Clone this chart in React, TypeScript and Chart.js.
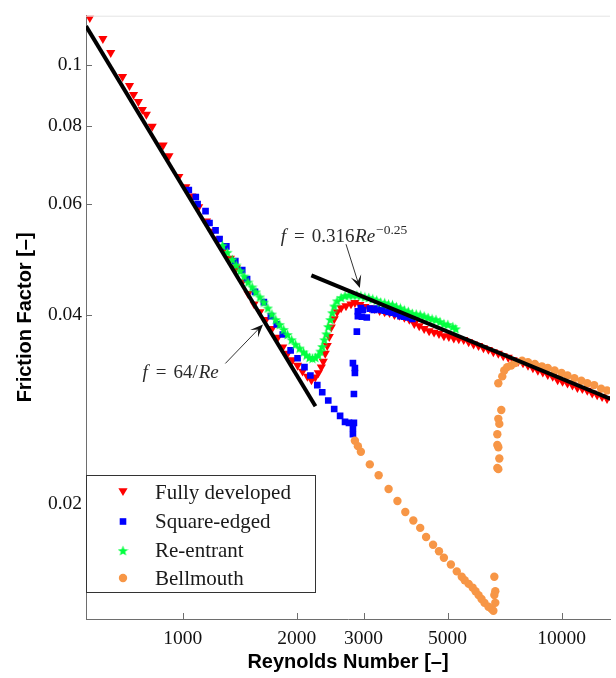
import React, { useEffect, useRef } from 'react';
import { Chart, registerables } from 'chart.js';

Chart.register(...registerables);

// ---- axes ----
const xTickValues = [1000, 2000, 3000, 5000, 10000];
const yTickValues = [0.02, 0.04, 0.06, 0.08, 0.1];
const xRange = [555, 13428];
const yRange = [0.0131, 0.1198];

// ---- series (Reynolds number, friction factor) ----
const seriesNames = ['Fully developed', 'Square-edged', 'Re-entrant', 'Bellmouth'];

const fullyRe = [568, 615, 645, 693, 723, 741, 763, 782, 801, 830, 887, 919, 976, 1018, 1056, 1101, 1155, 1198, 1242, 1288, 1335, 1384, 1435, 1487, 1542, 1598, 1657, 1719, 1781, 1836, 1891, 1950, 2009, 2071, 2133, 2186, 2238, 2279, 2321, 2349, 2377, 2406, 2436, 2466, 2510, 2555, 2618, 2697, 2780, 2847, 2935, 3024, 3117, 3211, 3309, 3411, 3515, 3621, 3732, 3846, 3964, 4085, 4210, 4338, 4471, 4607, 4747, 4891, 5041, 5195, 5354, 5517, 5686, 5859, 6038, 6222, 6412, 6607, 6809, 7016, 7231, 7451, 7679, 7913, 8156, 8404, 8661, 8925, 9198, 9477, 9767, 10063, 10371, 10687, 11014, 11349, 11696, 12052, 12421, 12799, 13189];
const fullyF = [0.1189, 0.1101, 0.1046, 0.0958, 0.0927, 0.0897, 0.0874, 0.0849, 0.0834, 0.0798, 0.0745, 0.0716, 0.0664, 0.0639, 0.0618, 0.0594, 0.0564, 0.0543, 0.0528, 0.0511, 0.0492, 0.0475, 0.0451, 0.0432, 0.0416, 0.0404, 0.0393, 0.0380, 0.0368, 0.0355, 0.0347, 0.0339, 0.0332, 0.0325, 0.0319, 0.0315, 0.0318, 0.0323, 0.0330, 0.0337, 0.0347, 0.0357, 0.0369, 0.0382, 0.0394, 0.0404, 0.0410, 0.0413, 0.0416, 0.0418, 0.0415, 0.0412, 0.0410, 0.0409, 0.0406, 0.0404, 0.0403, 0.0400, 0.0399, 0.0396, 0.0393, 0.0387, 0.0384, 0.0380, 0.0377, 0.0375, 0.0373, 0.0370, 0.0369, 0.0367, 0.0366, 0.0365, 0.0362, 0.0359, 0.0357, 0.0354, 0.0352, 0.0349, 0.0347, 0.0344, 0.0342, 0.0339, 0.0337, 0.0335, 0.0332, 0.0329, 0.0326, 0.0324, 0.0321, 0.0319, 0.0315, 0.0313, 0.0311, 0.0309, 0.0306, 0.0305, 0.0303, 0.0300, 0.0298, 0.0296, 0.0294];

const squareRe = [1037, 1082, 1094, 1148, 1176, 1220, 1250, 1303, 1376, 1435, 1478, 1551, 1637, 1708, 1770, 1836, 1926, 2009, 2095, 2172, 2265, 2334, 2421, 2510, 2602, 2681, 2746, 2813, 2813, 2830, 2830, 2847, 2847, 2813, 2881, 2899, 2899, 2952, 2988, 2970, 3060, 3117, 3192, 3249, 3330, 3411, 3493, 3578, 3664, 3755, 3846, 3939, 4036];
const squareF = [0.0632, 0.0616, 0.0600, 0.0585, 0.0560, 0.0545, 0.0528, 0.0514, 0.0487, 0.0471, 0.0456, 0.0435, 0.0419, 0.0398, 0.0386, 0.0372, 0.0351, 0.0341, 0.0330, 0.0320, 0.0309, 0.0301, 0.0292, 0.0283, 0.0276, 0.0270, 0.0269, 0.0264, 0.0258, 0.0269, 0.0299, 0.0323, 0.0329, 0.0335, 0.0376, 0.0398, 0.0405, 0.0410, 0.0407, 0.0397, 0.0396, 0.0409, 0.0407, 0.0409, 0.0407, 0.0406, 0.0404, 0.0403, 0.0401, 0.0398, 0.0397, 0.0396, 0.0394];

const reentrantRe = [1273, 1311, 1351, 1384, 1417, 1452, 1487, 1524, 1560, 1598, 1637, 1677, 1719, 1760, 1803, 1847, 1891, 1938, 1985, 2034, 2083, 2121, 2159, 2199, 2238, 2279, 2307, 2335, 2363, 2392, 2421, 2451, 2480, 2510, 2555, 2618, 2681, 2746, 2813, 2881, 2952, 3024, 3098, 3173, 3249, 3330, 3411, 3493, 3578, 3664, 3755, 3846, 3939, 4036, 4133, 4235, 4338, 4443, 4552, 4661, 4776, 4891, 5010, 5164, 5256];
const reentrantF = [0.0516, 0.0503, 0.0490, 0.0480, 0.0470, 0.0461, 0.0451, 0.0443, 0.0435, 0.0427, 0.0419, 0.0410, 0.0401, 0.0393, 0.0386, 0.0379, 0.0372, 0.0365, 0.0359, 0.0354, 0.0349, 0.0345, 0.0342, 0.0341, 0.0342, 0.0345, 0.0350, 0.0356, 0.0365, 0.0373, 0.0383, 0.0393, 0.0403, 0.0413, 0.0421, 0.0426, 0.0429, 0.0430, 0.0430, 0.0430, 0.0429, 0.0427, 0.0426, 0.0424, 0.0422, 0.0419, 0.0418, 0.0416, 0.0415, 0.0412, 0.0410, 0.0407, 0.0405, 0.0402, 0.0401, 0.0400, 0.0398, 0.0396, 0.0394, 0.0393, 0.0390, 0.0387, 0.0386, 0.0383, 0.0380];

const bellRe = [2847, 2899, 2952, 3117, 3289, 3494, 3687, 3868, 4061, 4235, 4389, 4579, 4747, 4891, 5103, 5289, 5452, 5550, 5686, 5824, 5928, 6038, 6148, 6258, 6412, 6529, 6607, 6685, 6646, 6685, 6646, 6768, 6809, 6851, 6809, 6768, 6768, 6851, 6809, 6933, 6809, 6975, 7058, 7187, 7363, 7539, 7867, 8156, 8503, 8872, 9198, 9589, 10003, 10371, 10813, 11282, 11696, 12194, 12722, 13190];
const bellF = [0.0252, 0.0247, 0.0242, 0.0231, 0.0222, 0.0211, 0.0202, 0.0194, 0.0188, 0.0183, 0.0177, 0.0172, 0.0168, 0.0164, 0.0160, 0.0156, 0.0153, 0.0151, 0.0149, 0.0147, 0.0145, 0.0143, 0.0141, 0.0139, 0.0137, 0.0136, 0.0135, 0.0139, 0.0143, 0.0145, 0.0153, 0.0228, 0.0227, 0.0236, 0.0246, 0.0248, 0.0258, 0.0268, 0.0273, 0.0282, 0.0311, 0.0319, 0.0326, 0.0330, 0.0332, 0.0335, 0.0338, 0.0336, 0.0334, 0.0331, 0.0329, 0.0326, 0.0323, 0.0320, 0.0317, 0.0314, 0.0311, 0.0309, 0.0305, 0.0303];

// ---- reference correlations (end points) ----
const laminarRe = [555, 2240];
const laminarF = [0.1153, 0.0286];
const blasiusRe = [2185, 14000];
const blasiusF = [0.0462, 0.0291];

// ---- annotation anchors (data coordinates) ----
const laminarLabelAt = [782, 0.0317];
const laminarArrow = [[1295, 0.03345], [1628, 0.0386]];
const blasiusLabelAt = [1814, 0.0522];
const blasiusArrow = [[2697, 0.0518], [2934, 0.0441]];

const RED = '#ff0000';
const BLUE = '#0000ff';
const GREEN = '#00ff3f';
const ORANGE = '#f79646';

function makeStar(color: string, size: number) {
  const c = document.createElement('canvas');
  c.width = size;
  c.height = size;
  const g = c.getContext('2d')!;
  const cx = size / 2, cy = size / 2 + 0.6, R = size / 2, r = R * 0.42;
  g.beginPath();
  for (let i = 0; i < 10; i++) {
    const rad = i % 2 === 0 ? R : r;
    const a = -Math.PI / 2 + (i * Math.PI) / 5;
    g.lineTo(cx + rad * Math.cos(a), cy + rad * Math.sin(a));
  }
  g.closePath();
  g.fillStyle = color;
  g.fill();
  return c;
}

function drawArrow(ctx: CanvasRenderingContext2D, x1: number, y1: number, x2: number, y2: number) {
  const ang = Math.atan2(y2 - y1, x2 - x1);
  const L = 14;
  const W = 0.4;
  ctx.strokeStyle = '#333';
  ctx.lineWidth = 1;
  ctx.beginPath();
  ctx.moveTo(x1, y1);
  ctx.lineTo(x2 - Math.cos(ang) * 6, y2 - Math.sin(ang) * 6);
  ctx.stroke();
  ctx.fillStyle = '#111';
  ctx.beginPath();
  ctx.moveTo(x2, y2);
  ctx.lineTo(x2 - L * Math.cos(ang - W), y2 - L * Math.sin(ang - W));
  ctx.lineTo(x2 - L * 0.5 * Math.cos(ang), y2 - L * 0.5 * Math.sin(ang));
  ctx.lineTo(x2 - L * Math.cos(ang + W), y2 - L * Math.sin(ang + W));
  ctx.closePath();
  ctx.fill();
}

type Piece = { t: string; it?: boolean; size: number; gap?: number; dy?: number };
function drawMath(ctx: CanvasRenderingContext2D, x: number, y: number, pieces: Piece[]) {
  let cx = x;
  ctx.fillStyle = '#2a2a2a';
  ctx.textAlign = 'left';
  ctx.textBaseline = 'alphabetic';
  for (const p of pieces) {
    cx += p.gap || 0;
    ctx.font = `${p.it ? 'italic ' : ''}${p.size}px "Liberation Serif"`;
    ctx.fillText(p.t, cx, y + (p.dy || 0));
    cx += ctx.measureText(p.t).width;
  }
}

function makeDecor(star: HTMLCanvasElement) {
  return {
    id: 'decor',
    afterDraw(chart: any) {
      const { ctx, chartArea: a, scales } = chart;
      const x = scales.x, y = scales.y;
      ctx.save();
      // faint top frame
      ctx.strokeStyle = '#e4e4e4';
      ctx.lineWidth = 1;
      ctx.beginPath();
      ctx.moveTo(a.left, a.top + 0.5);
      ctx.lineTo(a.right, a.top + 0.5);
      ctx.stroke();
      // inward ticks
      ctx.strokeStyle = '#6e6e6e';
      ctx.beginPath();
      for (const v of xTickValues) {
        const px = Math.round(x.getPixelForValue(v)) + 0.5;
        ctx.moveTo(px, a.bottom);
        ctx.lineTo(px, a.bottom - 6);
      }
      for (const v of yTickValues) {
        const py = Math.round(y.getPixelForValue(v)) + 0.5;
        ctx.moveTo(a.left, py);
        ctx.lineTo(a.left + 6, py);
      }
      ctx.stroke();

      // annotations
      const P = (d: number[]) => [x.getPixelForValue(d[0]), y.getPixelForValue(d[1])];
      const la0 = P(laminarArrow[0]), la1 = P(laminarArrow[1]);
      drawArrow(ctx, la0[0], la0[1], la1[0], la1[1]);
      const ba0 = P(blasiusArrow[0]), ba1 = P(blasiusArrow[1]);
      drawArrow(ctx, ba0[0], ba0[1], ba1[0], ba1[1]);
      const lt = P(laminarLabelAt);
      drawMath(ctx, lt[0], lt[1], [
        { t: 'f', it: true, size: 19 },
        { t: '=', size: 19, gap: 8 },
        { t: '64/', size: 19, gap: 7 },
        { t: 'Re', it: true, size: 19, gap: 1 },
      ]);
      const bt = P(blasiusLabelAt);
      drawMath(ctx, bt[0], bt[1], [
        { t: 'f', it: true, size: 19 },
        { t: '=', size: 19, gap: 8 },
        { t: '0.316', size: 19, gap: 7 },
        { t: 'Re', it: true, size: 19, gap: 0.5 },
        { t: '\u22120.25', size: 13.5, gap: 1, dy: -8 },
      ]);

      // legend
      const bx = a.left + 0.5, by = 475.5, bw = 229, bh = 117;
      ctx.fillStyle = '#fff';
      ctx.fillRect(bx, by, bw, bh);
      ctx.strokeStyle = '#333';
      ctx.lineWidth = 1;
      ctx.strokeRect(bx, by, bw, bh);
      const rows = [492, 521.5, 550.5, 578];
      const mx = a.left + 37;
      const tx = a.left + 69;
      // triangle
      ctx.fillStyle = RED;
      ctx.beginPath();
      ctx.moveTo(mx, rows[0] + 4);
      ctx.lineTo(mx - 4.6, rows[0] - 3.8);
      ctx.lineTo(mx + 4.6, rows[0] - 3.8);
      ctx.closePath();
      ctx.fill();
      // square
      ctx.fillStyle = BLUE;
      ctx.fillRect(mx - 3.3, rows[1] - 3.3, 6.6, 6.6);
      // star
      ctx.drawImage(star, mx - star.width / 2, rows[2] - star.height / 2);
      // circle
      ctx.fillStyle = ORANGE;
      ctx.beginPath();
      ctx.arc(mx, rows[3], 4.2, 0, Math.PI * 2);
      ctx.fill();
      ctx.fillStyle = '#1a1a1a';
      ctx.font = '21px "Liberation Serif"';
      ctx.textAlign = 'left';
      ctx.textBaseline = 'middle';
      seriesNames.forEach((n, i) => ctx.fillText(n, tx, rows[i] + 1));
      ctx.restore();
    },
  };
}

export default function App() {
  const ref = useRef<HTMLCanvasElement>(null);
  useEffect(() => {
    const canvas = ref.current;
    if (!canvas) return;
    const star = makeStar(GREEN, 11);
    const pts = (xs: number[], ys: number[]) => xs.map((v, i) => ({ x: v, y: ys[i] }));
    const chart = new Chart(canvas, {
      type: 'scatter',
      data: {
        datasets: [
          { label: 'laminar', data: pts(laminarRe, laminarF), showLine: true, borderColor: '#000', borderWidth: 4, pointRadius: 0, order: 0 } as any,
          { label: 'blasius', data: pts(blasiusRe, blasiusF), showLine: true, borderColor: '#000', borderWidth: 4, pointRadius: 0, order: 0 } as any,
          { label: seriesNames[3], data: pts(bellRe, bellF), pointStyle: 'circle', pointRadius: 4.2, pointBackgroundColor: ORANGE, pointBorderColor: ORANGE, pointBorderWidth: 0, order: 1 } as any,
          { label: seriesNames[2], data: pts(reentrantRe, reentrantF), pointStyle: star, pointRadius: 5, order: 2 } as any,
          { label: seriesNames[1], data: pts(squareRe, squareF), pointStyle: 'rect', pointRadius: 4.7, pointBackgroundColor: BLUE, pointBorderColor: BLUE, pointBorderWidth: 0, order: 3 } as any,
          { label: seriesNames[0], data: pts(fullyRe, fullyF), pointStyle: 'triangle', pointRotation: 180, pointRadius: 5.3, pointBackgroundColor: RED, pointBorderColor: RED, pointBorderWidth: 0, order: 4 } as any,
        ],
      },
      options: {
        responsive: false,
        animation: false,
        devicePixelRatio: 1,
        events: [],
        layout: { padding: { top: 13, right: 0, left: 0, bottom: 0 } },
        plugins: { legend: { display: false }, tooltip: { enabled: false } },
        scales: {
          x: {
            type: 'logarithmic',
            position: 'bottom',
            min: xRange[0],
            max: xRange[1],
            afterBuildTicks: (s: any) => {
              s.ticks = xTickValues.map((v) => ({ value: v }));
            },
            afterFit: (s: any) => {
              s.height = 59;
            },
            grid: { display: false, drawTicks: false },
            border: { display: true, color: '#6e6e6e', width: 1 },
            ticks: {
              autoSkip: false,
              maxRotation: 0,
              minRotation: 0,
              padding: 8,
              color: '#111',
              font: { family: '"Liberation Serif"', size: 19.5 },
              callback: (v: any) => String(v),
            },
            title: {
              display: true,
              text: 'Reynolds Number [\u2013]',
              color: '#000',
              font: { family: '"Liberation Sans"', size: 20, weight: 'bold' },
              padding: { top: 0, bottom: 4 },
            },
          },
          y: {
            type: 'logarithmic',
            position: 'left',
            min: yRange[0],
            max: yRange[1],
            afterBuildTicks: (s: any) => {
              s.ticks = yTickValues.map((v) => ({ value: v }));
            },
            afterFit: (s: any) => {
              s.width = 86;
            },
            grid: { display: false, drawTicks: false },
            border: { display: true, color: '#6e6e6e', width: 1 },
            ticks: {
              autoSkip: false,
              padding: 4,
              color: '#111',
              font: { family: '"Liberation Serif"', size: 19.5 },
              callback: (v: any) => String(v),
            },
            title: {
              display: true,
              text: 'Friction Factor [\u2013]',
              color: '#000',
              font: { family: '"Liberation Sans"', size: 20, weight: 'bold' },
              padding: { top: 13, bottom: 0 },
            },
          },
        },
      } as any,
      plugins: [makeDecor(star)],
    });
    return () => chart.destroy();
  }, []);
  return (
    <div style={{ position: 'absolute', left: 0, top: 0, width: 616, height: 678, background: '#fff' }}>
      <canvas ref={ref} width={616} height={678} style={{ display: 'block', width: 616, height: 678 }} />
    </div>
  );
}
